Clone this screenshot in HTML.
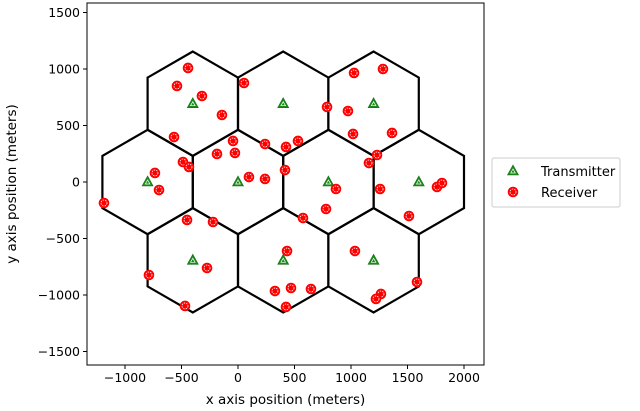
<!DOCTYPE html>
<html><head><meta charset="utf-8"><style>
body{margin:0;background:#fff;font-family:"DejaVu Sans","Liberation Sans",sans-serif;}
svg{display:block}
</style></head><body>
<svg id="chart" width="640" height="411" xmlns="http://www.w3.org/2000/svg"></svg>
<script>
const txX=[-400,400,1200,-800,0,800,1600,-400,400,1200];
const txY=[693,693,693,0,0,0,0,-693,-693,-693];
const rxX=[-442,-540,-319,-142,53,-566,-44,-186,-27,239,425,-487,-434,-735,-699,-1186,97,239,416,-451,-221,-274,-788,-469,434,327,425,1027,1283,788,973,1018,1363,531,1230,1159,867,779,575,1257,1761,1805,1513,1035,469,646,1584,1265,1221];
const rxY=[1009,850,761,593,876,398,363,248,257,336,310,177,133,80,-71,-186,44,27,106,-336,-354,-761,-823,-1097,-611,-965,-1106,965,1000,664,628,425,434,363,239,168,-62,-239,-319,-62,-44,-9,-301,-611,-938,-947,-885,-991,-1035];
const xTicks=[-1000,-500,0,500,1000,1500,2000];
const yTicks=[1500,1000,500,0,-500,-1000,-1500];
const hexR=462;

const NS="http://www.w3.org/2000/svg";
const svg=document.getElementById('chart');
const L=87,R=484,T=3,B=365;
const sx=v=>238+v*0.113, sy=v=>182-v*0.113;
function mk(tag,attrs,parent){const e=document.createElementNS(NS,tag);for(const k in attrs)e.setAttribute(k,attrs[k]);(parent||svg).appendChild(e);return e;}

const hexG=mk('g',{});


for(let i=0;i<txX.length;i++){
  let pts=[];
  for(let k=0;k<6;k++){const a=Math.PI/2+k*Math.PI/3;pts.push(sx(txX[i]+hexR*Math.cos(a)).toFixed(1)+','+sy(txY[i]+hexR*Math.sin(a)).toFixed(1));}
  const p=mk('polygon',{points:pts.join(' '),fill:'none',stroke:'#000','stroke-width':2.2,'stroke-linejoin':'miter'},hexG);
  
  
}
function rxMarker(x,y,parent){
  const g=mk('g',{},parent);
  mk('circle',{cx:x,cy:y,r:5.3,fill:'#ff0000'},g);
  mk('circle',{cx:x,cy:y,r:3,fill:'none',stroke:'#fff','stroke-width':0.8,'stroke-dasharray':'1.5 1'},g);
  return g;
}
function txMarker(x,y,parent){
  const g=mk('g',{},parent);
  mk('polygon',{points:`${x},${y-6} ${x-5.5},${y+4} ${x+5.5},${y+4}`,fill:'#1a8a1a',stroke:'#137313','stroke-width':0.6},g);
  mk('polygon',{points:`${x},${y-2} ${x-2.3},${y+2} ${x+2.3},${y+2}`,fill:'none',stroke:'#fff','stroke-width':0.7},g);
  return g;
}
for(let i=0;i<txX.length;i++){
  const m=txMarker(sx(txX[i]),sy(txY[i]));
  
  
}
for(let i=0;i<rxX.length;i++){
  const m=rxMarker(sx(rxX[i]),sy(rxY[i]));
  
  
}
const frame=mk('rect',{x:L,y:T,width:R-L,height:B-T,fill:'none',stroke:'#000','stroke-width':1});


xTicks.forEach(v=>{
  const x=sx(v);
  mk('line',{x1:x,x2:x,y1:B,y2:B+4,stroke:'#000','stroke-width':1});
  const t=mk('text',{x:x,y:B+17,'text-anchor':'middle','font-size':12.5,fill:'#000'});
  t.textContent=v<0?'\u2212'+(-v):String(v);
  
  
});
yTicks.forEach(v=>{
  const y=sy(v);
  mk('line',{x1:L-4,x2:L,y1:y,y2:y,stroke:'#000','stroke-width':1});
  const t=mk('text',{x:L-7,y:y+4.5,'text-anchor':'end','font-size':12.5,fill:'#000'});
  t.textContent=v<0?'\u2212'+(-v):String(v);
  
  
});
const xl=mk('text',{x:(L+R)/2,y:404,'text-anchor':'middle','font-size':13.5,fill:'#000'});
xl.textContent='x axis position (meters)';


const yl=mk('text',{x:0,y:0,'text-anchor':'middle','font-size':13.5,fill:'#000',transform:`translate(16,${(T+B)/2}) rotate(-90)`});
yl.textContent='y axis position (meters)';



const lg=mk('g',{});


mk('rect',{x:492,y:158,width:128,height:49,rx:2,fill:'#fff',stroke:'#ccc','stroke-width':1},lg);
const le1=txMarker(513,171,lg);


const lt1=mk('text',{x:541,y:176,'font-size':13,fill:'#000'},lg);
lt1.textContent='Transmitter';


const le2=rxMarker(513,192,lg);


const lt2=mk('text',{x:541,y:197,'font-size':13,fill:'#000'},lg);
lt2.textContent='Receiver';


</script>
</body></html>
